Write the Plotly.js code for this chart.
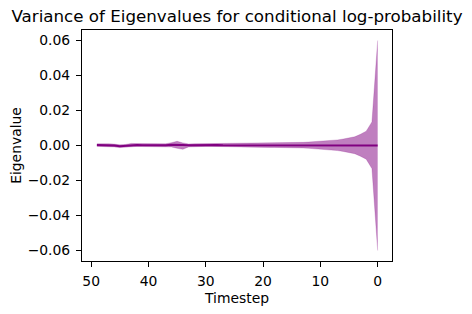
<!DOCTYPE html>
<html>
<head>
<meta charset="utf-8">
<script src="https://cdn.plot.ly/plotly-3.0.1.min.js"></script>
<style>html,body{margin:0;padding:0;background:#fff;}#chart{width:472px;height:314px;}</style>
</head>
<body>
<div id="chart"></div>
<script>
// Timesteps from 49 down to 0
const timesteps = [49,48,47,46,45,44,43,42,41,40,39,38,37,36,35,34,33,32,31,30,29,28,27,26,25,24,23,22,21,20,19,18,17,16,15,14,13,12,11,10,9,8,7,6,5,4,3,2,1,0];
// Mean eigenvalue per timestep
const meanValues = [0.0003,0.0003,0.0002,0.0000,-0.0004,-0.0002,0.0004,0.0003,0.0002,0.0001,0.0000,-0.0001,0.0002,0.0004,0.0005,0.0003,0.0001,0.0002,0.0002,0.0003,0.0003,0.0003,0.0002,0.0002,0.0002,0.0002,0.0002,0.0002,0.0002,0.0002,0.0002,0.0002,0.0002,0.0002,0.0002,0.0002,0.0002,0.0002,0.0002,0.0002,0.0002,0.0002,0.0002,0.0002,0.0002,0.0002,0.0002,0.0002,0.0001,0.0000];
// Upper edge of band
const upperValues = [0.0010,0.0011,0.0010,0.0008,0.0004,0.0006,0.0012,0.0011,0.0010,0.0009,0.0008,0.0007,0.0010,0.0016,0.0024,0.0015,0.0009,0.0010,0.0010,0.0011,0.0011,0.0011,0.0011,0.0012,0.0012,0.0013,0.0013,0.0014,0.0015,0.0015,0.0015,0.0015,0.0015,0.0015,0.0016,0.0017,0.0018,0.0020,0.0022,0.0025,0.0027,0.0029,0.0032,0.0037,0.0042,0.0050,0.0064,0.0082,0.0135,0.0600];
// Lower edge of band
const lowerValues = [-0.0005,-0.0005,-0.0006,-0.0008,-0.0012,-0.0010,-0.0004,-0.0005,-0.0006,-0.0007,-0.0008,-0.0009,-0.0006,-0.0008,-0.0016,-0.0022,-0.0008,-0.0006,-0.0006,-0.0005,-0.0005,-0.0006,-0.0007,-0.0008,-0.0008,-0.0009,-0.0009,-0.0010,-0.0011,-0.0011,-0.0011,-0.0011,-0.0011,-0.0011,-0.0012,-0.0013,-0.0014,-0.0016,-0.0018,-0.0022,-0.0024,-0.0026,-0.0029,-0.0034,-0.0039,-0.0047,-0.0061,-0.0078,-0.0132,-0.0600];
const xTicks = [50,40,30,20,10,0];
const yTicks = [-0.06,-0.04,-0.02,0.00,0.02,0.04,0.06];

const bandColor = 'rgba(128,0,128,0.5)';
const traces = [
  {x: timesteps, y: lowerValues, type: 'scatter', mode: 'lines', line: {color: 'rgba(128,0,128,0.35)', width: 0.6}, hoverinfo: 'skip', showlegend: false},
  {x: timesteps, y: upperValues, type: 'scatter', mode: 'lines', fill: 'tonexty', fillcolor: bandColor, line: {color: 'rgba(128,0,128,0.35)', width: 0.6}, hoverinfo: 'skip', showlegend: false},
  {x: timesteps, y: meanValues, type: 'scatter', mode: 'lines', line: {color: '#800080', width: 2}, showlegend: false}
];
const font = {family: 'DejaVu Sans, sans-serif', color: '#000'};
const layout = {
  width: 472, height: 314,
  margin: {l: 82, r: 80, t: 30, b: 53, pad: 0},
  paper_bgcolor: '#fff', plot_bgcolor: '#fff',
  font: Object.assign({size: 13.9}, font),
  title: {text: 'Variance of Eigenvalues for conditional log-probability', font: Object.assign({size: 16.7}, font), x: 0.5, xref: 'paper', xanchor: 'center', y: 1 - 16/314, yref: 'container', yanchor: 'middle'},
  xaxis: {
    range: [51.6, -2.5], tickvals: xTicks, ticktext: xTicks.map(String),
    ticks: 'outside', ticklen: 5, tickwidth: 1, tickcolor: '#000', ticklabelstandoff: 2,
    showline: true, mirror: true, linecolor: '#000', linewidth: 1,
    showgrid: false, zeroline: false, tickfont: Object.assign({size: 13.9}, font),
    title: {text: 'Timestep', font: Object.assign({size: 13.9}, font), standoff: 5},
    automargin: false
  },
  yaxis: {
    range: [-0.066, 0.066], tickvals: yTicks, tickformat: '.2f',
    ticks: 'outside', ticklen: 5, tickwidth: 1, tickcolor: '#000', ticklabelstandoff: 3,
    showline: true, mirror: true, linecolor: '#000', linewidth: 1,
    showgrid: false, zeroline: false, tickfont: Object.assign({size: 13.9}, font),
    title: {text: 'Eigenvalue', font: Object.assign({size: 13.9}, font), standoff: 2},
    automargin: false
  }
};
Plotly.newPlot('chart', traces, layout, {staticPlot: true, displayModeBar: false});
</script>
</body>
</html>
